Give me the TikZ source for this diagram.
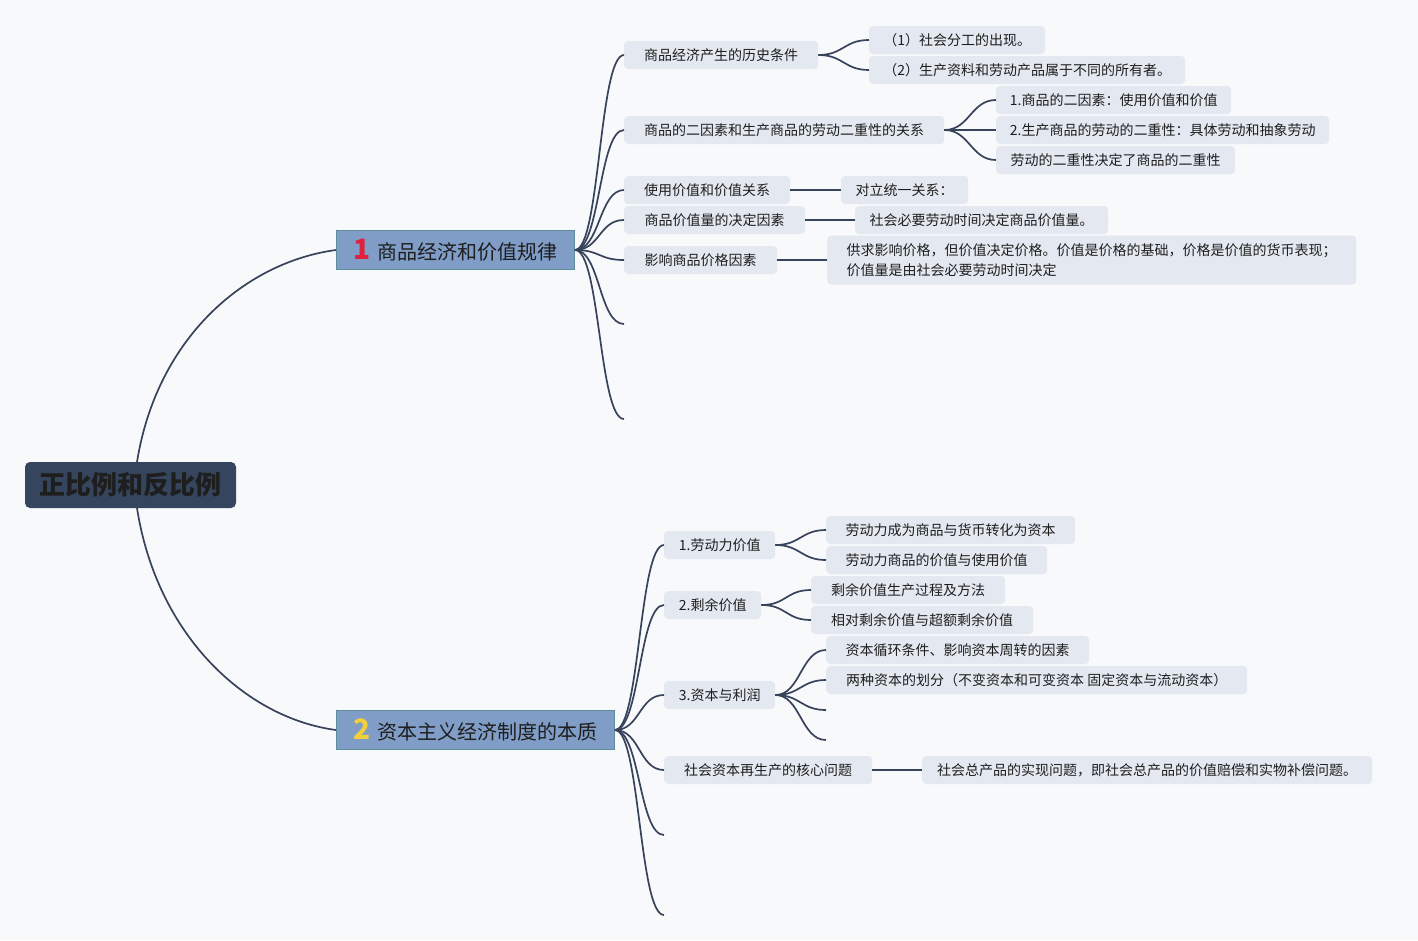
\documentclass[tikz,border=0pt]{standalone}
\usepackage{fontspec}
\setmainfont{Noto Sans CJK SC}
\usepackage{xcolor}
\usetikzlibrary{shapes,arrows,positioning}

\definecolor{bgcol}{HTML}{F8F9FB}
\definecolor{leafcol}{HTML}{E4E9F1}
\definecolor{linkcol}{HTML}{37435A}
\definecolor{rootcol}{HTML}{35455D}
\definecolor{maincol}{HTML}{7F9DC6}
\definecolor{mainedge}{HTML}{5E8E99}
\definecolor{txtcol}{HTML}{1E1E1E}
\definecolor{numred}{HTML}{E0203C}
\definecolor{numyel}{HTML}{F3CF3A}

\begin{document}
\begin{tikzpicture}[x=1pt, y=-1pt,
    leaf/.style={fill=leafcol, rounded corners=4pt, anchor=west, minimum height=28pt,
        inner sep=0pt, text=txtcol, font=\fontsize{14}{18}\selectfont},
    main/.style={draw=mainedge, fill=maincol, line width=1pt, anchor=west, minimum height=39pt,
        inner sep=0pt, text=txtcol, font=\fontsize{20}{24}\selectfont},
    link/.style={draw=linkcol, line width=1.7pt},
    fan/.style={to path={.. controls +(25,0) and +(-25,0) .. (\tikztotarget)}}]

    \fill[bgcol] (0,0) rectangle (1418,940);
    \useasboundingbox (0,0) rectangle (1418,940);

    \node (R) [fill=rootcol, rounded corners=5pt, minimum width=211pt, minimum height=46pt,
        text=txtcol, font=\fontsize{26}{30}\selectfont\bfseries] at (130.5,485) {正比例和反比例};
    \coordinate (RT) at (137,462);
    \coordinate (RB) at (137,508);

    \node (M1) [main, minimum width=238pt] at (336,250)
        {{\color{numred}\fontsize{28}{28}\selectfont\bfseries 1}\hspace{6pt}商品经济和价值规律};
    \node (M2) [main, minimum width=278pt] at (336,730)
        {{\color{numyel}\fontsize{28}{28}\selectfont\bfseries 2}\hspace{6pt}资本主义经济制度的本质};

    \node (A1) [leaf, minimum width=194pt] at (624,55) {商品经济产生的历史条件};
    \node (A11) [leaf, minimum width=176pt] at (869,40) {（1）社会分工的出现。};
    \node (A12) [leaf, minimum width=316pt] at (869,70) {（2）生产资料和劳动产品属于不同的所有者。};
    \node (A2) [leaf, minimum width=320pt] at (624,130) {商品的二因素和生产商品的劳动二重性的关系};
    \node (A21) [leaf, minimum width=235pt] at (996,100) {1.商品的二因素：使用价值和价值};
    \node (A22) [leaf, minimum width=333pt] at (996,130) {2.生产商品的劳动的二重性：具体劳动和抽象劳动};
    \node (A23) [leaf, minimum width=239pt] at (996,160) {劳动的二重性决定了商品的二重性};
    \node (A3) [leaf, minimum width=166pt] at (624,190) {使用价值和价值关系};
    \node (A31) [leaf, minimum width=127pt] at (841,190) {对立统一关系：};
    \node (A4) [leaf, minimum width=181pt] at (624,220) {商品价值量的决定因素};
    \node (A41) [leaf, minimum width=253pt] at (855,220) {社会必要劳动时间决定商品价值量。};
    \node (A5) [leaf, minimum width=153pt] at (624,260) {影响商品价格因素};
    \node (A51) [leaf, minimum width=529pt, minimum height=49pt, align=left,
        font=\fontsize{14}{20}\selectfont] at (827,260)
        {供求影响价格，但价值决定价格。价值是价格的基础，价格是价值的货币表现；\\价值量是由社会必要劳动时间决定};
    \coordinate (E1) at (624,324);
    \coordinate (E2) at (624,419);

    \node (B1) [leaf, minimum width=111pt] at (664,545) {1.劳动力价值};
    \node (B11) [leaf, minimum width=249pt] at (826,530) {劳动力成为商品与货币转化为资本};
    \node (B12) [leaf, minimum width=221pt] at (826,560) {劳动力商品的价值与使用价值};
    \node (B2) [leaf, minimum width=97pt] at (664,605) {2.剩余价值};
    \node (B21) [leaf, minimum width=194pt] at (811,590) {剩余价值生产过程及方法};
    \node (B22) [leaf, minimum width=222pt] at (811,620) {相对剩余价值与超额剩余价值};
    \node (B3) [leaf, minimum width=111pt] at (664,695) {3.资本与利润};
    \node (B31) [leaf, minimum width=263pt] at (826,650) {资本循环条件、影响资本周转的因素};
    \node (B32) [leaf, minimum width=421pt] at (826,680) {两种资本的划分（不变资本和可变资本 固定资本与流动资本）};
    \coordinate (E3) at (826,710);
    \coordinate (E4) at (826,740);
    \node (B4) [leaf, minimum width=208pt] at (664,770) {社会资本再生产的核心问题};
    \node (B41) [leaf, minimum width=450pt] at (922,770) {社会总产品的实现问题，即社会总产品的价值赔偿和实物补偿问题。};
    \coordinate (E5) at (664,835);
    \coordinate (E6) at (664,915);

    \draw[link] (RT) .. controls +(20,-125) and +(-90,12) .. (M1.west);
    \draw[link] (RB) .. controls +(20,128) and +(-90,-12) .. (M2.west);

    \path[link] (M1.east) edge[fan] (A1.west) edge[fan] (A2.west) edge[fan] (A3.west)
        edge[fan] (A4.west) edge[fan] (A5.west) edge[fan] (E1) edge[fan] (E2);
    \path[link] (A1.east) edge[fan] (A11.west) edge[fan] (A12.west);
    \path[link] (A2.east) edge[fan] (A21.west) edge[fan] (A22.west) edge[fan] (A23.west);
    \draw[link] (A3) -- (A31);
    \draw[link] (A4) -- (A41);
    \draw[link] (A5) -- (A51);

    \path[link] (M2.east) edge[fan] (B1.west) edge[fan] (B2.west) edge[fan] (B3.west)
        edge[fan] (B4.west) edge[fan] (E5) edge[fan] (E6);
    \path[link] (B1.east) edge[fan] (B11.west) edge[fan] (B12.west);
    \path[link] (B2.east) edge[fan] (B21.west) edge[fan] (B22.west);
    \path[link] (B3.east) edge[fan] (B31.west) edge[fan] (B32.west) edge[fan] (E3) edge[fan] (E4);
    \draw[link] (B4) -- (B41);
\end{tikzpicture}
\end{document}
